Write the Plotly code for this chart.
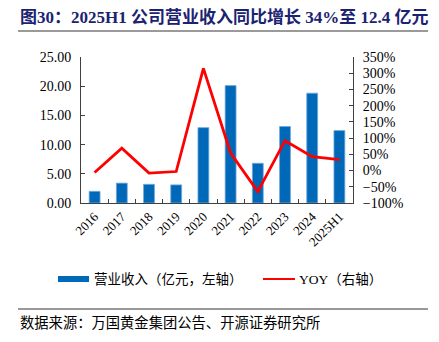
import plotly.graph_objects as go

categories = ["2016", "2017", "2018", "2019", "2020", "2021", "2022", "2023", "2024", "2025H1"]
revenue = [2.0, 3.4, 3.2, 3.1, 12.9, 20.1, 6.8, 13.1, 18.8, 12.4]
yoy = [-6, 69, -8, -3, 315, 54, -65, 92, 43, 34]

title_text = "图30：2025H1 公司营业收入同比增长 34%至 12.4 亿元"
bar_name = "营业收入（亿元，左轴）"
line_name = "YOY（右轴）"
source_text = "数据来源：万国黄金集团公告、开源证券研究所"

W, H = 439, 342
L, R, T, B = 81, 353, 57, 203  # plot area pixels

def px(x):
    return (x - L) / (R - L)

def py(y):
    return (B - y) / (B - T)

serif = "Times New Roman, Liberation Serif, Noto Sans CJK SC, serif"
cjk = "Times New Roman, Liberation Serif, Noto Sans CJK SC, serif"

fig = go.Figure()
fig.add_trace(go.Bar(x=categories, y=revenue, name=bar_name,
                     marker=dict(color="#0068B9", line=dict(color="#6FA8DC", width=0.8)),
                     showlegend=False))
fig.add_trace(go.Scatter(x=categories, y=yoy, name=line_name, yaxis="y2", mode="lines",
                         line=dict(color="#FF0000", width=2.8), showlegend=False))

axis_col = "#404040"
fig.update_layout(
    width=W, height=H,
    margin=dict(l=L, r=W - R, t=T, b=H - B),
    paper_bgcolor="white", plot_bgcolor="white",
    bargap=0.6,
    font=dict(family=serif, color="black", size=14),
    xaxis=dict(type="category", showline=True, linecolor=axis_col, linewidth=1,
               ticks="inside", ticklen=4, tickcolor=axis_col, tickson="boundaries",
               tickangle=-45, tickfont=dict(size=13, family=serif), showgrid=False,
               range=[-0.5, len(categories) - 0.5]),
    yaxis=dict(range=[0, 25], dtick=5, tickformat=".2f", showline=True, linecolor=axis_col,
               linewidth=1, ticks="inside", ticklen=4, tickcolor=axis_col, showgrid=False,
               zeroline=False, tickfont=dict(size=14, family=serif), ticklabelstandoff=6),
    yaxis2=dict(range=[-100, 350], dtick=50, ticksuffix="%", overlaying="y", side="right",
                showline=True, linecolor=axis_col, linewidth=1, ticks="inside", ticklen=4,
                tickcolor=axis_col, showgrid=False, zeroline=False,
                tickfont=dict(size=14, family=serif), ticklabelstandoff=6),
)

shapes = [
    dict(type="line", xref="paper", yref="paper", x0=px(18), x1=px(428), y0=py(31), y1=py(31),
         line=dict(color="#9A9A9A", width=2)),
    dict(type="line", xref="paper", yref="paper", x0=px(18), x1=px(428), y0=py(309), y1=py(309),
         line=dict(color="#333333", width=1)),
    dict(type="rect", xref="paper", yref="paper", x0=px(58), x1=px(89), y0=py(282), y1=py(276),
         fillcolor="#0068B9", line=dict(width=0)),
    dict(type="line", xref="paper", yref="paper", x0=px(263), x1=px(295), y0=py(279), y1=py(279),
         line=dict(color="#FF0000", width=2)),
]
annotations = [
    dict(text="<b>" + title_text + "</b>", xref="paper", yref="paper", x=px(18), y=py(17),
         xanchor="left", yanchor="middle", showarrow=False,
         font=dict(size=17, color="#1B2371", family=serif)),
    dict(text=bar_name, xref="paper", yref="paper", x=px(92), y=py(279), xanchor="left",
         yanchor="middle", showarrow=False, font=dict(size=13.5, family=cjk, color="black")),
    dict(text=line_name, xref="paper", yref="paper", x=px(297), y=py(279), xanchor="left",
         yanchor="middle", showarrow=False, font=dict(size=13.5, family=cjk, color="black")),
    dict(text=source_text, xref="paper", yref="paper", x=px(18), y=py(323), xanchor="left",
         yanchor="middle", showarrow=False, font=dict(size=14.3, family=cjk, color="black")),
]
fig.update_layout(shapes=shapes, annotations=annotations)

fig.write_html("out.html")
